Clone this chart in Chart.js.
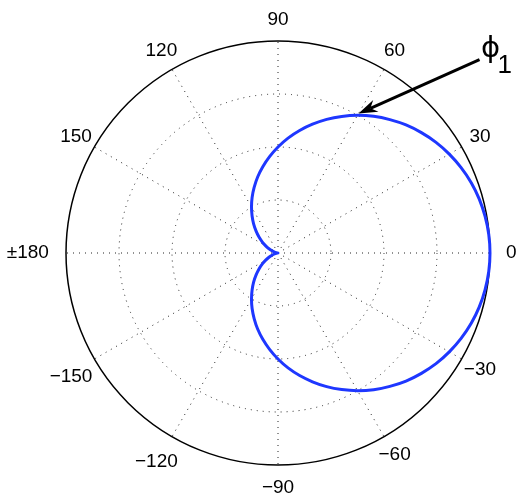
<!DOCTYPE html>
<html lang="en">
<head>
<meta charset="UTF-8">
<title>Polar plot</title>
<style>
  html, body { margin: 0; padding: 0; background: #fff; }
  .wrap { width: 525px; height: 503px; }
</style>
</head>
<body>
<div class="wrap"><canvas id="myChart" width="525" height="503"></canvas></div>

<script src="https://cdn.jsdelivr.net/npm/chart.js"></script>
<script>
// angle in degrees (counter-clockwise from 0), read every 5 degrees
const angles = [0, 5, 10, 15, 20, 25, 30, 35, 40, 45, 50, 55, 60, 65, 70, 75, 80, 85,
  90, 95, 100, 105, 110, 115, 120, 125, 130, 135, 140, 145, 150, 155, 160, 165, 170, 175,
  180, 185, 190, 195, 200, 205, 210, 215, 220, 225, 230, 235, 240, 245, 250, 255, 260, 265,
  270, 275, 280, 285, 290, 295, 300, 305, 310, 315, 320, 325, 330, 335, 340, 345, 350, 355];

// radius (outer circle = 1)
const radius = [1.000, 0.998, 0.992, 0.983, 0.970, 0.953, 0.933, 0.910, 0.883, 0.854, 0.821, 0.787, 0.750, 0.711, 0.671, 0.629, 0.587, 0.544,
  0.500, 0.456, 0.413, 0.371, 0.329, 0.289, 0.250, 0.213, 0.179, 0.146, 0.117, 0.090, 0.067, 0.047, 0.030, 0.017, 0.008, 0.002,
  0.000, 0.002, 0.008, 0.017, 0.030, 0.047, 0.067, 0.090, 0.117, 0.146, 0.179, 0.213, 0.250, 0.289, 0.329, 0.371, 0.413, 0.456,
  0.500, 0.544, 0.587, 0.629, 0.671, 0.711, 0.750, 0.787, 0.821, 0.854, 0.883, 0.910, 0.933, 0.953, 0.970, 0.983, 0.992, 0.998];

const spokeAngles = [0, 30, 60, 90, 120, 150, 180, 210, 240, 270, 300, 330];
const spokeLabels = ['0', '30', '60', '90', '120', '150', '\u00b1180', '\u2212150', '\u2212120', '\u221290', '\u221260', '\u221230'];

const arrowAngle = 60;
const arrowValue = 0.75;

// radar goes clockwise, so flip the order (index i -> angle -5*i)
const n = angles.length;
const chartLabels = [];
const chartData = [];
for (let i = 0; i < n; i++) {
  const k = (n - i) % n;
  chartLabels.push(angles[k]);
  chartData.push(radius[k]);
}
function indexForAngle(a) {
  return chartLabels.indexOf(a);
}

const labelNudge = { '\u00b1180': [-17, 0], '\u2212150': [-5, 7], '\u2212120': [-5, 7], '\u221290': [0, 2] };

const decorPlugin = {
  id: 'decor',
  afterDraw(chart) {
    const scale = chart.scales.r;
    const ctx = chart.ctx;
    ctx.save();
    // spoke labels
    ctx.fillStyle = '#000';
    ctx.font = '19px "Liberation Sans", Arial, sans-serif';
    ctx.textAlign = 'center';
    ctx.textBaseline = 'middle';
    for (let j = 0; j < spokeAngles.length; j++) {
      const p = scale.getPointPosition(indexForAngle(spokeAngles[j]), scale.drawingArea * 1.1);
      const d = labelNudge[spokeLabels[j]] || [0, 0];
      ctx.fillText(spokeLabels[j], p.x + d[0], p.y + d[1]);
    }

    // arrow pointing at the curve
    const tip = scale.getPointPosition(indexForAngle(arrowAngle), scale.getDistanceFromCenterForValue(arrowValue) + 2);
    const tail = { x: tip.x + 121, y: tip.y - 54 };
    const len = Math.hypot(tip.x - tail.x, tip.y - tail.y);
    const ux = (tip.x - tail.x) / len, uy = (tip.y - tail.y) / len;
    const nx = -uy, ny = ux;
    const L = 19, W = 6.5, back = 6;
    ctx.strokeStyle = '#000';
    ctx.lineWidth = 3;
    ctx.beginPath();
    ctx.moveTo(tail.x, tail.y);
    ctx.lineTo(tip.x - ux * (L - back), tip.y - uy * (L - back));
    ctx.stroke();
    ctx.fillStyle = '#000';
    ctx.beginPath();
    ctx.moveTo(tip.x, tip.y);
    ctx.lineTo(tip.x - ux * L + nx * W, tip.y - uy * L + ny * W);
    ctx.lineTo(tip.x - ux * (L - back), tip.y - uy * (L - back));
    ctx.lineTo(tip.x - ux * L - nx * W, tip.y - uy * L - ny * W);
    ctx.closePath();
    ctx.fill();

    // phi_1 label
    ctx.textAlign = 'center';
    ctx.textBaseline = 'alphabetic';
    ctx.font = '29px "DejaVu Sans", sans-serif';
    ctx.fillText('\u03d5', tail.x + 11, tail.y - 3);
    ctx.textAlign = 'left';
    ctx.font = '26px "Liberation Sans", Arial, sans-serif';
    ctx.fillText('1', tail.x + 18, tail.y + 13);
    ctx.restore();
  }
};

const ctx = document.getElementById('myChart');

new Chart(ctx, {
  type: 'radar',
  data: {
    labels: chartLabels,
    datasets: [{
      label: 'phi1',
      data: chartData,
      borderColor: 'rgb(30, 55, 255)',
      borderWidth: 3,
      pointRadius: 0,
      fill: false,
      tension: 0.35
    }]
  },
  options: {
    responsive: false,
    animation: false,
    events: [],
    layout: { padding: { left: 66, right: 35, top: 41, bottom: 38 } },
    plugins: {
      legend: { display: false },
      tooltip: { enabled: false }
    },
    scales: {
      r: {
        min: 0,
        max: 1,
        startAngle: 90,
        ticks: { display: false, stepSize: 0.25 },
        pointLabels: { display: false },
        grid: {
          circular: true,
          color: (c) => (c.tick && c.tick.value === 1 ? '#000' : '#222'),
          lineWidth: (c) => (c.tick && c.tick.value === 1 ? 1.5 : 1)
        },
        border: {
          dash: (c) => (c.tick && c.tick.value === 1 ? [] : [1, 5])
        },
        angleLines: {
          display: true,
          color: '#222',
          lineWidth: (c) => (spokeAngles.indexOf(chartLabels[c.index]) >= 0 ? 1 : 0),
          borderDash: [1, 5]
        }
      }
    }
  },
  plugins: [decorPlugin]
});
</script>
</body>
</html>
